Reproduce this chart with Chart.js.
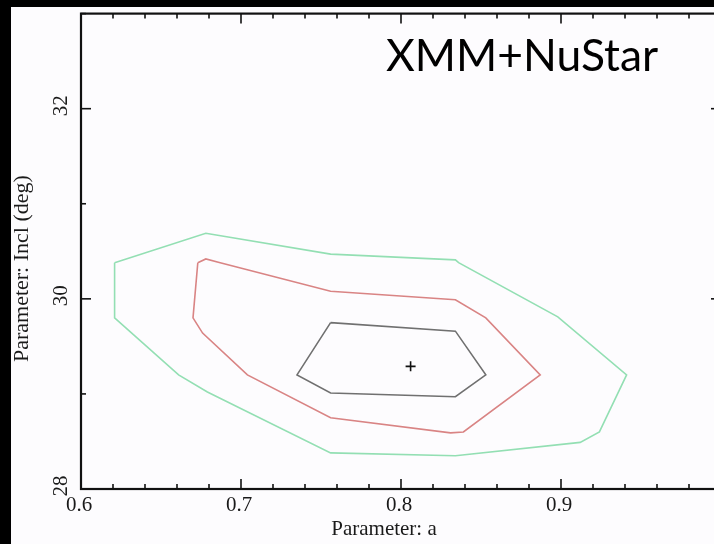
<!DOCTYPE html>
<html>
<head>
<meta charset="utf-8">
<script src="https://cdn.jsdelivr.net/npm/chart.js@4"></script>
<style>
  html, body { margin: 0; padding: 0; background: #000; overflow: hidden; }
  #wrap { position: absolute; left: 11px; top: 7px; width: 740px; height: 537px; background: #fdfcfe; }
</style>
</head>
<body>
<div id="wrap"><canvas id="contourChart"></canvas></div>
<script>
// ✅ Contour data (a, Incl in deg)
const greenA = [0.621, 0.678, 0.756, 0.834, 0.836, 0.898, 0.941, 0.924, 0.912, 0.834, 0.756, 0.679, 0.661, 0.621];
const greenI = [30.38, 30.69, 30.47, 30.41, 30.38, 29.81, 29.20, 28.60, 28.49, 28.35, 28.38, 29.02, 29.20, 29.80];

const redA = [0.673, 0.678, 0.687, 0.756, 0.834, 0.853, 0.887, 0.839, 0.831, 0.756, 0.704, 0.676, 0.670];
const redI = [30.38, 30.42, 30.38, 30.08, 29.99, 29.80, 29.20, 28.60, 28.59, 28.75, 29.20, 29.64, 29.80];

const blackA = [0.756, 0.834, 0.853, 0.834, 0.756, 0.735];
const blackI = [29.75, 29.66, 29.20, 28.97, 29.01, 29.20];

const bestA = [0.806];
const bestI = [29.29];

// ✅ Axis ticks
const xMajor = [0.6, 0.7, 0.8, 0.9, 1.0];
const xMinor = [0.62, 0.64, 0.66, 0.68, 0.72, 0.74, 0.76, 0.78, 0.82, 0.84, 0.86, 0.88, 0.92, 0.94, 0.96, 0.98];
const xLabels = ['0.6', '0.7', '0.8', '0.9', '1'];
const yMajor = [28, 30, 32];
const yMinor = [29, 31, 33];
const yLabels = ['28', '30', '32'];

const xTitle = 'Parameter: a';
const yTitle = 'Parameter: Incl (deg)';
const note = 'XMM+NuStar';

function closedLoop(as, is) {
  const pts = as.map((a, k) => ({ x: a, y: is[k] }));
  pts.push(pts[0]);
  return pts;
}

// ✅ Frame, inward ticks, labels and titles
const framePlugin = {
  id: 'frame',
  afterDatasetsDraw(chart) {
    const { ctx, chartArea: ca, scales } = chart;
    const xs = scales.x, ys = scales.y;
    ctx.save();
    ctx.strokeStyle = '#111';

    ctx.lineWidth = 1.6;
    const tick = (x1, y1, x2, y2) => { ctx.beginPath(); ctx.moveTo(x1, y1); ctx.lineTo(x2, y2); ctx.stroke(); };
    xMajor.forEach(v => { const p = xs.getPixelForValue(v); tick(p, ca.bottom, p, ca.bottom - 10); tick(p, ca.top, p, ca.top + 10); });
    xMinor.forEach(v => { const p = xs.getPixelForValue(v); tick(p, ca.bottom, p, ca.bottom - 5); tick(p, ca.top, p, ca.top + 5); });
    yMajor.forEach(v => { const p = ys.getPixelForValue(v); tick(ca.left, p, ca.left + 10, p); tick(ca.right, p, ca.right - 10, p); });
    yMinor.forEach(v => { const p = ys.getPixelForValue(v); tick(ca.left, p, ca.left + 5, p); tick(ca.right, p, ca.right - 5, p); });

    ctx.lineWidth = 2.2;
    ctx.strokeRect(ca.left, ca.top, ca.right - ca.left, ca.bottom - ca.top);

    ctx.fillStyle = '#1a1a1a';
    ctx.font = '21px "Liberation Serif"';
    ctx.textAlign = 'center';
    ctx.textBaseline = 'middle';
    xMajor.forEach((v, k) => ctx.fillText(xLabels[k], xs.getPixelForValue(v) - 2, ca.bottom + 16));
    yMajor.forEach((v, k) => {
      ctx.save();
      ctx.translate(ca.left - 20, ys.getPixelForValue(v) - 3);
      ctx.rotate(-Math.PI / 2);
      ctx.fillText(yLabels[k], 0, 0);
      ctx.restore();
    });

    ctx.fillText(xTitle, ca.left + 303, ca.bottom + 40);
    ctx.save();
    ctx.translate(ca.left - 59, ca.top + 255);
    ctx.rotate(-Math.PI / 2);
    ctx.font = '22px "Liberation Serif"';
    ctx.fillText(yTitle, 0, 0);
    ctx.restore();

    // big annotation
    ctx.fillStyle = '#000';
    ctx.textAlign = 'left';
    ctx.textBaseline = 'alphabetic';
    let size = 44;
    ctx.font = size + 'px Lato';
    size = size * 272 / ctx.measureText(note).width;
    ctx.font = size.toFixed(1) + 'px Lato';
    ctx.fillText(note, ca.left + 305, ca.top + 57);
    ctx.restore();
  }
};

document.addEventListener('DOMContentLoaded', () => {
  const ctx = document.getElementById('contourChart').getContext('2d');
  new Chart(ctx, {
    type: 'scatter',
    data: {
      datasets: [
        { data: closedLoop(greenA, greenI), showLine: true, borderColor: '#93dfb3', borderWidth: 1.6, pointRadius: 0, tension: 0 },
        { data: closedLoop(redA, redI), showLine: true, borderColor: '#d98484', borderWidth: 1.6, pointRadius: 0, tension: 0 },
        { data: closedLoop(blackA, blackI), showLine: true, borderColor: '#707070', borderWidth: 1.6, pointRadius: 0, tension: 0 },
        { data: bestA.map((a, k) => ({ x: a, y: bestI[k] })), pointStyle: 'cross', pointRadius: 5, borderColor: '#111', borderWidth: 1.6 }
      ]
    },
    options: {
      responsive: true,
      maintainAspectRatio: false,
      animation: false,
      events: [],
      layout: { padding: { left: 70, top: 6, right: 30, bottom: 55 } },
      plugins: { legend: { display: false }, tooltip: { enabled: false } },
      scales: {
        x: {
          type: 'linear', min: 0.6, max: 1.0,
          ticks: { display: false }, grid: { display: false }, border: { display: false },
          afterFit: s => { s.height = 0; }
        },
        y: {
          type: 'linear', min: 28, max: 33,
          ticks: { display: false }, grid: { display: false }, border: { display: false },
          afterFit: s => { s.width = 0; }
        }
      }
    },
    plugins: [framePlugin]
  });
});
</script>
</body>
</html>
